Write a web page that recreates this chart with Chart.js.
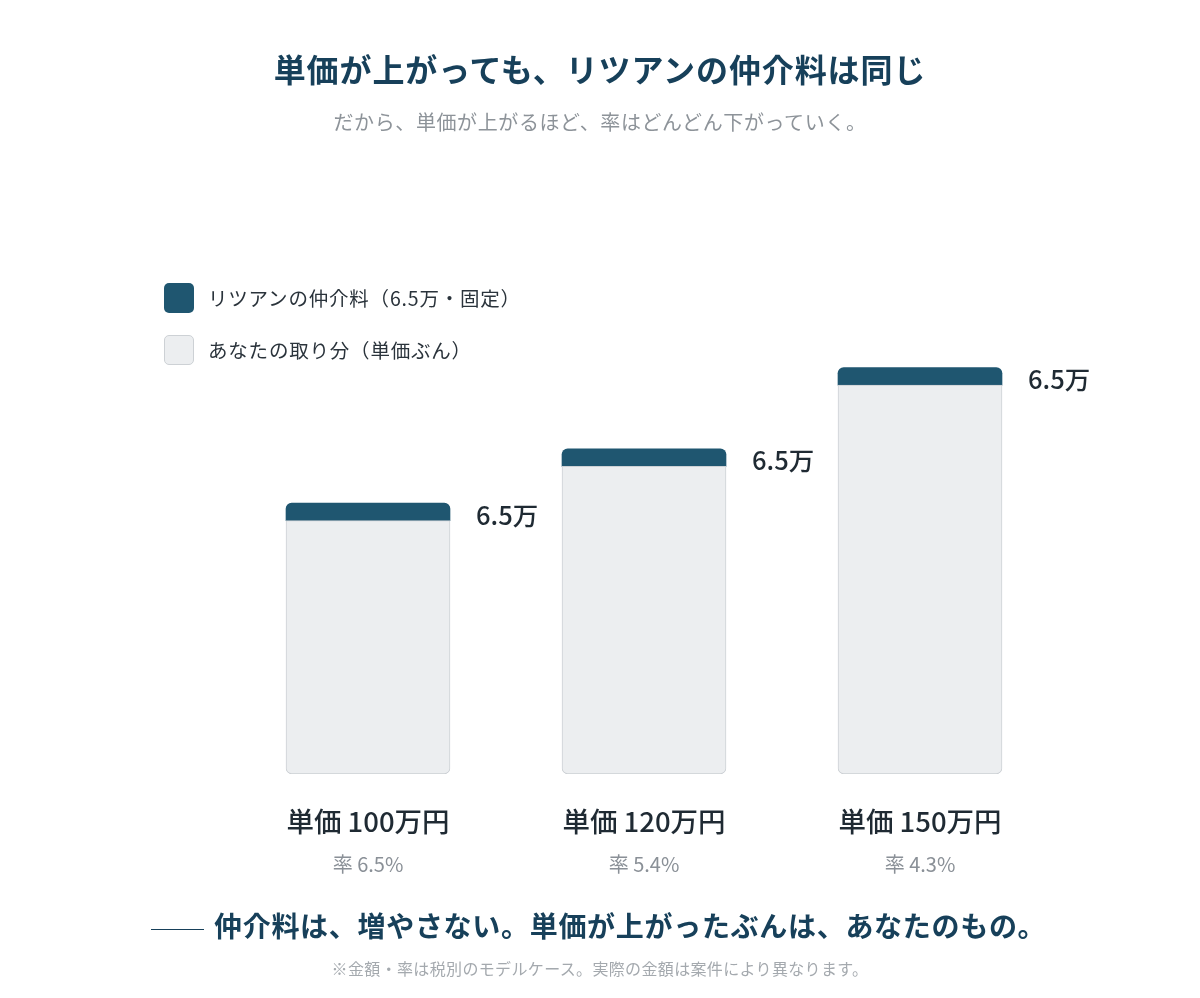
<!DOCTYPE html>
<html lang="ja">
<head>
<meta charset="utf-8">
<title>単価が上がっても、リツアンの仲介料は同じ</title>
<script src="https://cdn.jsdelivr.net/npm/chart.js@4.4.1/dist/chart.umd.min.js"></script>
<style>
    html, body { margin: 0; padding: 0; background: #ffffff; }
    body { width: 1200px; height: 998px; position: relative; overflow: hidden;
           font-family: 'Noto Sans CJK JP', 'Noto Sans', sans-serif; }
    #chart { position: absolute; left: 0; top: 0; }
    .txt { position: absolute; white-space: nowrap; }
    .title { left: 0; width: 1200px; top: 48px; line-height: 40px; text-align: center;
             font-size: 32px; font-weight: 700; color: #17405a; letter-spacing: 0.9px; }
    .subtitle { left: 0; width: 1200px; top: 108px; line-height: 28px; text-align: center;
                font-size: 20px; color: #8d9399; letter-spacing: 0.6px; }
    .legend-item { left: 164px; height: 30px; line-height: 30px; font-size: 19.5px; color: #2a333b;
                   letter-spacing: 0.8px; }
    .legend-item .box { display: inline-block; width: 30px; height: 30px; border-radius: 5px;
                        vertical-align: top; margin-right: 14px; box-sizing: border-box; }
    .bottom { left: 151px; top: 907px; line-height: 36px; font-size: 28px; font-weight: 700; color: #17405a;
              letter-spacing: 0.7px; }
    .bottom .rule { display: inline-block; width: 53px; border-top: 1.5px solid #17405a;
                    vertical-align: middle; margin-right: 10px; }
    .note { left: 0; width: 1200px; top: 957px; line-height: 22px; text-align: center;
            font-size: 16px; color: #a4a9ae; letter-spacing: 0.35px; }
</style>
</head>
<body>
<canvas id="chart" width="1200" height="998"></canvas>

<div class="txt title">単価が上がっても、リツアンの仲介料は同じ</div>
<div class="txt subtitle">だから、単価が上がるほど、率はどんどん下がっていく。</div>

<div class="txt legend-item" style="top:283px"><span class="box" style="background:#1f5670"></span>リツアンの仲介料（6.5万・固定）</div>
<div class="txt legend-item" style="top:335px"><span class="box" style="background:#eceef0;border:1px solid #cdd1d5"></span>あなたの取り分（単価ぶん）</div>

<div class="txt bottom"><span class="rule"></span>仲介料は、増やさない。単価が上がったぶんは、あなたのもの。</div>
<div class="txt note">※金額・率は税別のモデルケース。実際の金額は案件により異なります。</div>

<script>
// Data (unit: 万円)
const categories = ['単価 100万円', '単価 120万円', '単価 150万円'];
const rateLabels = ['率 6.5%', '率 5.4%', '率 4.3%'];
const yourShare = [93.5, 113.5, 143.5];
const fee = [6.5, 6.5, 6.5];
const feeLabels = ['6.5万', '6.5万', '6.5万'];

const FONT = "'Noto Sans CJK JP', 'Noto Sans', sans-serif";

// Labels drawn next to / under the bars
const labelPlugin = {
    id: 'barLabels',
    afterDatasetsDraw(chart) {
        const ctx = chart.ctx;
        const feeMeta = chart.getDatasetMeta(1);
        const baseY = chart.scales.y.getPixelForValue(0);

        ctx.save();
        feeMeta.data.forEach((bar, i) => {
            // fee value to the right of the bar top
            ctx.font = '500 25.5px ' + FONT;
            ctx.fillStyle = '#1f2a33';
            ctx.textAlign = 'left';
            ctx.textBaseline = 'middle';
            ctx.fillText(feeLabels[i], bar.x + bar.width / 2 + 26, bar.y + 12);

            // category label + rate below the bar
            ctx.textAlign = 'center';
            ctx.font = '500 27.5px ' + FONT;
            ctx.fillStyle = '#1f2a33';
            ctx.fillText(categories[i], bar.x, baseY + 48);
            ctx.font = '20px ' + FONT;
            ctx.fillStyle = '#8a9097';
            ctx.fillText(rateLabels[i], bar.x, baseY + 90);
        });
        ctx.restore();
    }
};

new Chart(document.getElementById('chart'), {
    type: 'bar',
    data: {
        labels: categories,
        datasets: [{
            label: 'あなたの取り分（単価ぶん）',
            data: yourShare,
            backgroundColor: '#eceef0',
            borderColor: '#cdd1d5',
            borderWidth: 1,
            borderSkipped: false,
            borderRadius: { topLeft: 0, topRight: 0, bottomLeft: 6, bottomRight: 6 },
            barThickness: 164
        }, {
            label: 'リツアンの仲介料（6.5万・固定）',
            data: fee,
            backgroundColor: '#1f5670',
            borderWidth: 0,
            borderSkipped: 'start',
            borderRadius: { topLeft: 6, topRight: 6, bottomLeft: 0, bottomRight: 0 },
            barThickness: 164
        }]
    },
    options: {
        responsive: false,
        animation: false,
        layout: {
            padding: { top: 340.4, bottom: 224, left: 230, right: 142 }
        },
        plugins: {
            legend: { display: false },
            tooltip: { enabled: false }
        },
        scales: {
            x: { stacked: true, display: false },
            y: { stacked: true, display: false, min: 0, max: 160 }
        }
    },
    plugins: [labelPlugin]
});
</script>
</body>
</html>
